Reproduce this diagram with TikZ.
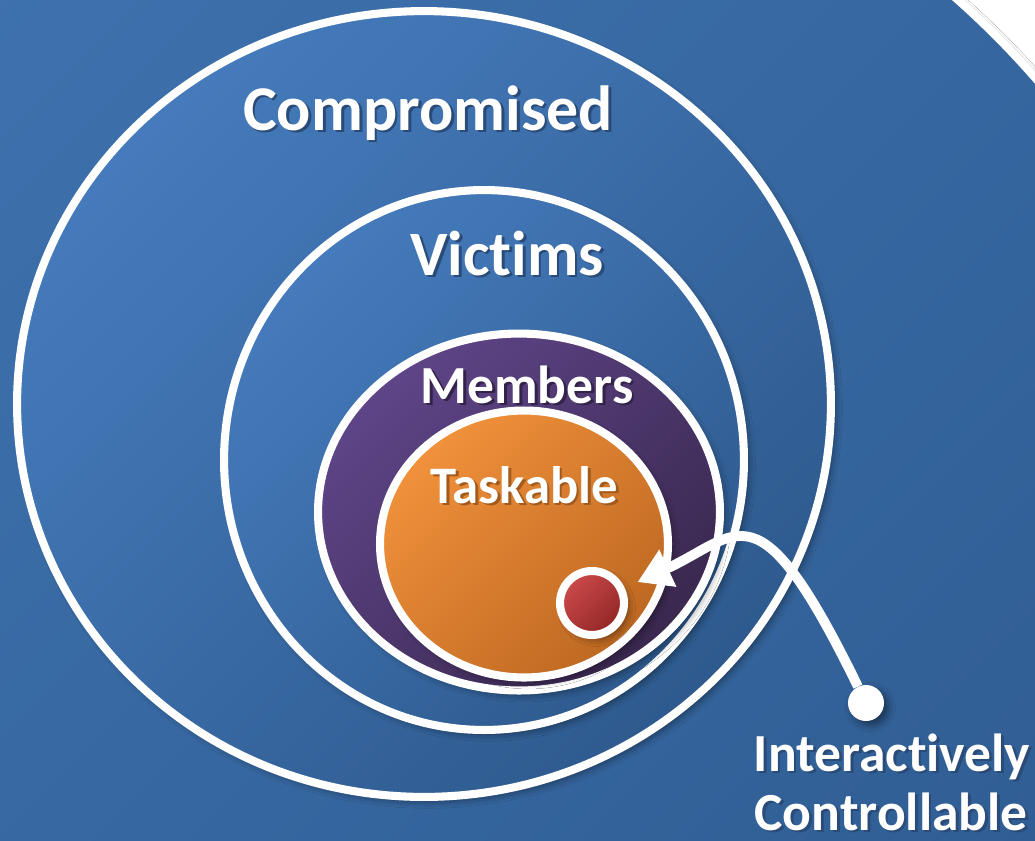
\documentclass[tikz,border=0pt]{standalone}
\usepackage{fontspec}
\setmainfont{Carlito}[Ligatures=NoCommon]
\usepackage{tikz}
\usetikzlibrary{positioning}
\usetikzlibrary{shapes.geometric}
\usetikzlibrary{arrows.meta}
\usetikzlibrary{shadows.blur}
\pgfdeclarelayer{background}
\pgfdeclarelayer{foreground}
\pgfsetlayers{background,main,foreground}

\definecolor{backtop}{HTML}{3F73B0}
\definecolor{backbot}{HTML}{2D5A8F}
\definecolor{bluetop}{HTML}{457BBC}
\definecolor{bluebot}{HTML}{2E5A8E}
\definecolor{purpletop}{HTML}{5E4588}
\definecolor{purplebot}{HTML}{3A284F}
\definecolor{orangetop}{HTML}{F1913B}
\definecolor{orangebot}{HTML}{BD6822}
\definecolor{redtop}{HTML}{CC4A4A}
\definecolor{redbot}{HTML}{922626}
\definecolor{blueshade}{HTML}{2A4B78}
\definecolor{purpleshade}{HTML}{33234A}
\definecolor{orangeshade}{HTML}{A35A1D}

% white text with a dark copy behind it
\newcommand{\shadowtext}[2]{\makebox[0pt][l]{\hspace{1.6pt}\raisebox{-1.6pt}{\textcolor{#1}{#2}}}#2}

\begin{document}
\begin{tikzpicture}[
				x=0.02cm, y=-0.02cm,
				ring/.style={ellipse, draw=white, line width=4.6pt, inner sep=0pt},
				softshadow/.style={blur shadow={shadow xshift=2.5pt, shadow yshift=-2.5pt, shadow blur radius=4pt, shadow opacity=45}},
				ringlabel/.style={text=white, anchor=base, inner sep=0pt},
				pointer/.style={draw=white, line width=5.6pt, -{Triangle[length=19pt, width=22pt]}},
				]
				\useasboundingbox (0,0) rectangle (1035,840);
				\clip (0,0) rectangle (1035,840);
				\fill[white] (0,0) rectangle (1035,840);

				%Nodes
				\node[ring, circle, minimum size=34.8cm, softshadow, top color=backtop, bottom color=backbot, shading angle=45] (backdrop) at (380,650) {};
				\node[ring, minimum width=16.28cm, minimum height=15.72cm, softshadow, top color=bluetop, bottom color=bluebot, shading angle=45] (compromised) at (424,404) {};
				\node[ring, minimum width=10.4cm, minimum height=10.8cm, softshadow, top color=bluetop, bottom color=bluebot, shading angle=45] (victims) at (484,460) {};
				\node[ring, minimum width=8.04cm, minimum height=7.14cm, softshadow, top color=purpletop, bottom color=purplebot, shading angle=45] (members) at (519,512) {};
				\node[ring, minimum width=5.76cm, minimum height=5.34cm, softshadow, top color=orangetop, bottom color=orangebot, shading angle=45] (taskable) at (524,544) {};
				\node[ring, circle, minimum size=1.28cm, softshadow, top color=redtop, bottom color=redbot, shading angle=45] (dot) at (592,603) {};
				\node[circle, fill=white, minimum size=0.72cm, inner sep=0pt, softshadow] (knob) at (866,703) {};

				%Labels
				\node[ringlabel, font=\bfseries\fontsize{36.3}{40}\selectfont] (lcompromised) at (428,130) {\shadowtext{blueshade}{Compromised}};
				\node[ringlabel, font=\bfseries\fontsize{36}{40}\selectfont] (lvictims) at (507,275) {\shadowtext{blueshade}{Victims}};
				\node[ringlabel, font=\bfseries\fontsize{30.5}{32}\selectfont] (lmembers) at (527,403) {\shadowtext{purpleshade}{Members}};
				\node[ringlabel, font=\bfseries\fontsize{30}{32}\selectfont] (ltaskable) at (524,503) {\shadowtext{orangeshade}{Taskable}};
				\node[ringlabel, font=\bfseries\fontsize{30.5}{32}\selectfont] (linteractive) at (892,771) {\shadowtext{blueshade}{Interactively}};
				\node[ringlabel, font=\bfseries\fontsize{30.5}{32}\selectfont] (lcontrol) at (891,830) {\shadowtext{blueshade}{Controllable}};

				%Lines
				\draw[pointer, shorten >=8pt] (knob) .. controls (757,480) and (740,535) .. (dot);
			\end{tikzpicture}
\end{document}
